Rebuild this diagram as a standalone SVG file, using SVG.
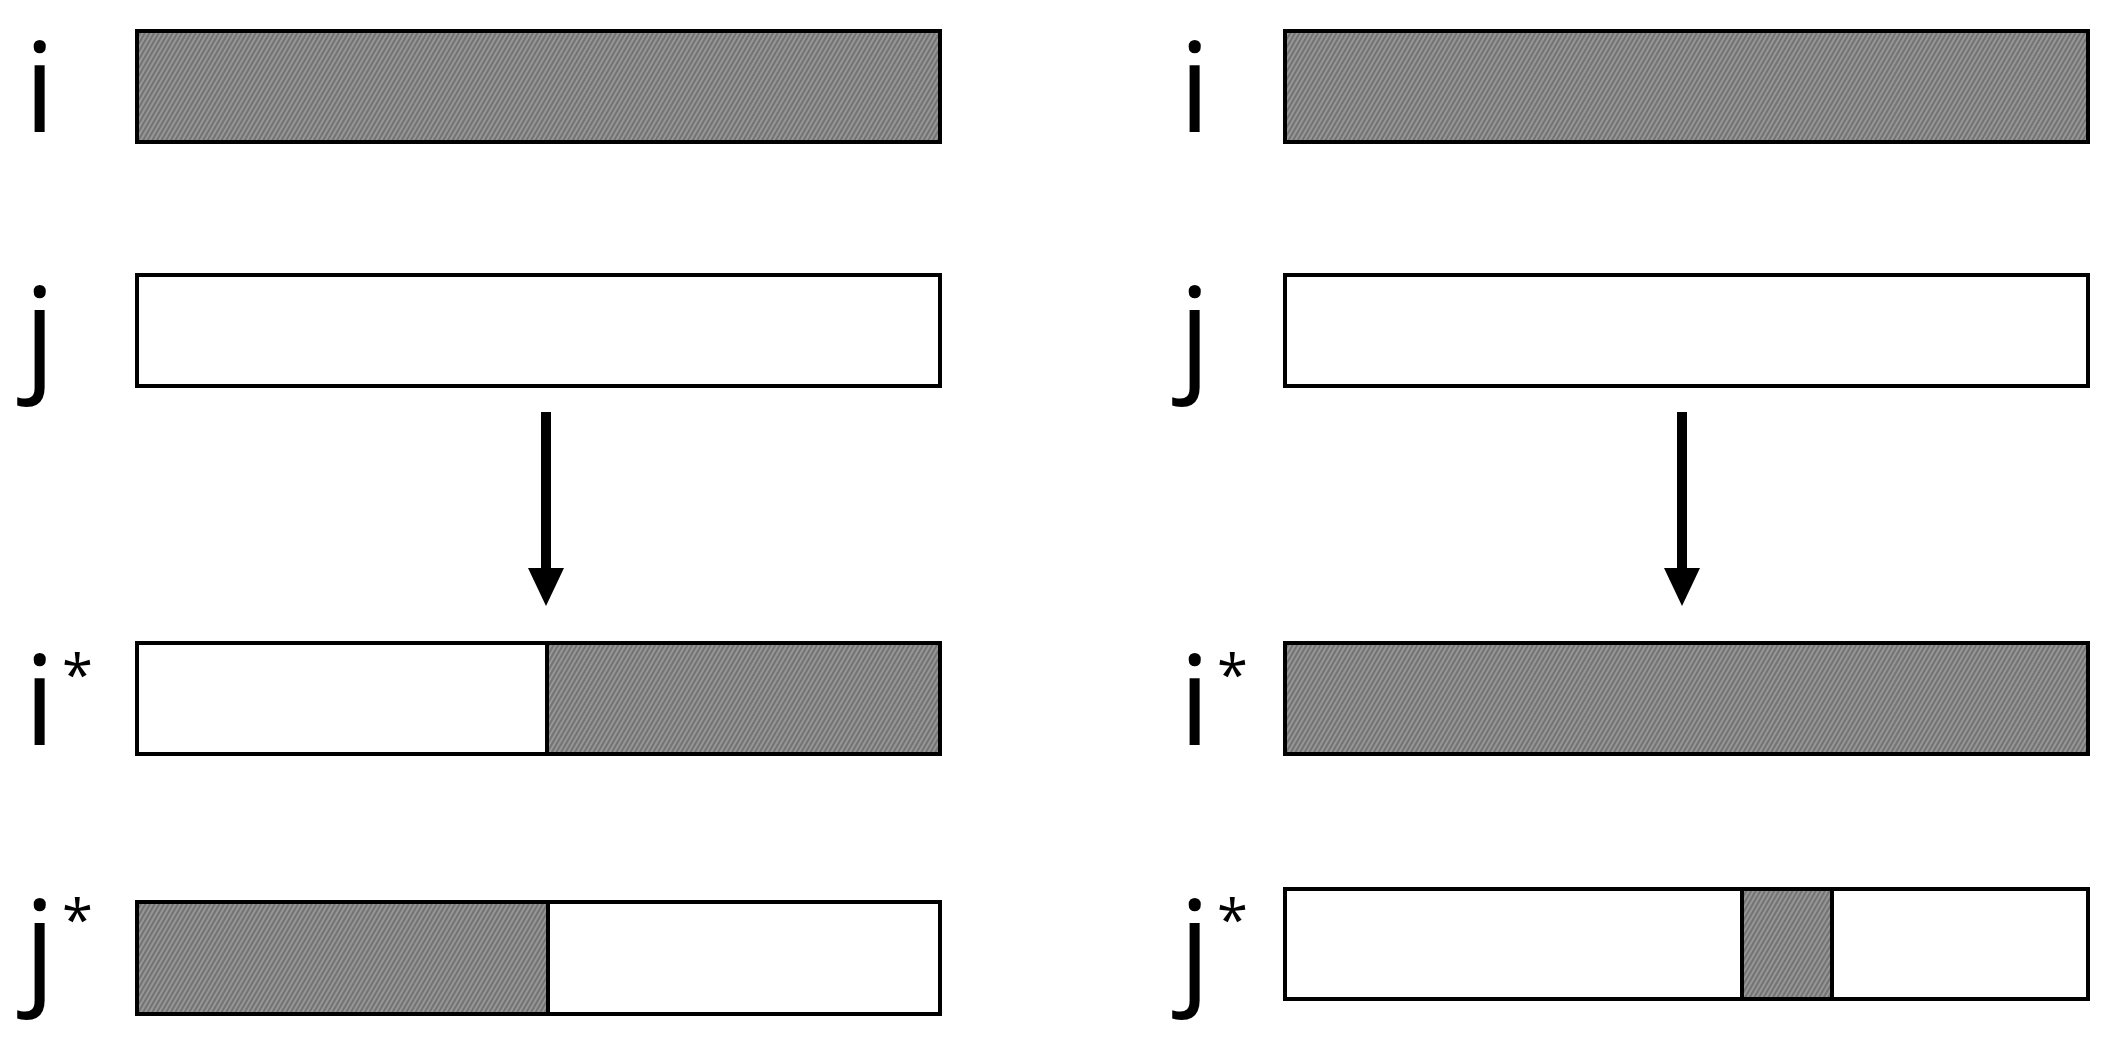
<svg xmlns="http://www.w3.org/2000/svg" width="2118" height="1047" viewBox="0 0 2118 1047">
<style>
  .lbl { font-family: "Open Sans", "DejaVu Sans", sans-serif; font-size: 124px; fill: #000; }
  .ast { font-size: 56px; }
  .box { stroke: #000; stroke-width: 4; }
  .white { fill: #fff; }
  .gray { fill: url(#hatch); }
  .div { stroke: #000; stroke-width: 4; fill: none; }
  .shaft { stroke: #000; stroke-width: 10; fill: none; }
</style>
<defs>
  <pattern id="hatch" width="4" height="4" patternUnits="userSpaceOnUse" patternTransform="rotate(-60)">
    <rect width="4" height="4" fill="#969696"/>
    <line x1="0" y1="2" x2="4" y2="2" stroke="#6a6a6a" stroke-width="1.6"/>
  </pattern>
  <marker id="arrowhead" markerUnits="userSpaceOnUse" markerWidth="38" markerHeight="36" refX="0" refY="18" orient="auto" viewBox="0 0 38 36">
    <path d="M0,0 L38,18 L0,36 Z" fill="#000"/>
  </marker>
</defs>
<rect width="2118" height="1047" fill="#fff"/>

<g id="left-i">
  <rect class="box gray" x="137" y="31" width="803" height="111"/>
  <text class="lbl" x="24" y="132">i</text>
</g>
<g id="left-j">
  <rect class="box white" x="137" y="275" width="803" height="111"/>
  <text class="lbl" x="24" y="377">j</text>
</g>
<g id="left-istar">
  <rect class="white" x="137" y="643" width="410" height="111"/>
  <rect class="gray" x="547" y="643" width="393" height="111"/>
  <rect class="box" fill="none" x="137" y="643" width="803" height="111"/>
  <line class="div" x1="547" y1="643" x2="547" y2="754"/>
  <text class="lbl" x="24" y="745">i<tspan class="ast" x="62" dy="-50">*</tspan></text>
</g>
<g id="left-jstar">
  <rect class="gray" x="137" y="902" width="411" height="112"/>
  <rect class="white" x="548" y="902" width="392" height="112"/>
  <rect class="box" fill="none" x="137" y="902" width="803" height="112"/>
  <line class="div" x1="548" y1="902" x2="548" y2="1014"/>
  <text class="lbl" x="24" y="990">j<tspan class="ast" x="62" dy="-50">*</tspan></text>
</g>

<g id="right-i">
  <rect class="box gray" x="1285" y="31" width="803" height="111"/>
  <text class="lbl" x="1179" y="132">i</text>
</g>
<g id="right-j">
  <rect class="box white" x="1285" y="275" width="803" height="111"/>
  <text class="lbl" x="1179" y="377">j</text>
</g>
<g id="right-istar">
  <rect class="box gray" x="1285" y="643" width="803" height="111"/>
  <text class="lbl" x="1179" y="745">i<tspan class="ast" x="1217" dy="-50">*</tspan></text>
</g>
<g id="right-jstar">
  <rect class="box white" x="1285" y="889" width="803" height="110"/>
  <rect class="gray" x="1742" y="889" width="90" height="110"/>
  <line class="div" x1="1742" y1="889" x2="1742" y2="999"/>
  <line class="div" x1="1832" y1="889" x2="1832" y2="999"/>
  <rect class="box" fill="none" x="1285" y="889" width="803" height="110"/>
  <text class="lbl" x="1179" y="990">j<tspan class="ast" x="1217" dy="-50">*</tspan></text>
</g>

<g id="connectors">
  <line class="shaft" x1="546" y1="412" x2="546" y2="568" marker-end="url(#arrowhead)"/>
  <line class="shaft" x1="1682" y1="412" x2="1682" y2="568" marker-end="url(#arrowhead)"/>
</g>
</svg>
